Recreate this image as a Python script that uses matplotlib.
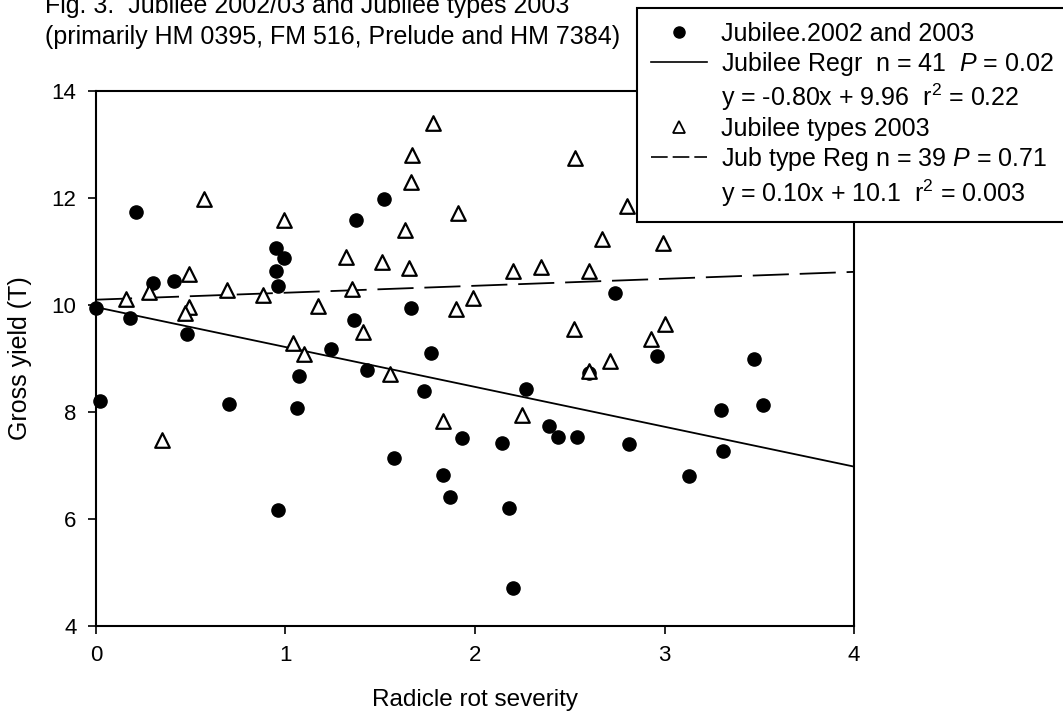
import numpy as np
import matplotlib.pyplot as plt
from matplotlib.lines import Line2D

plt.rcParams['font.family'] = ['Liberation Sans', 'DejaVu Sans']
plt.rcParams['mathtext.fontset'] = 'custom'
plt.rcParams['mathtext.rm'] = 'Liberation Sans'
plt.rcParams['mathtext.it'] = 'Liberation Sans:italic'

# Jubilee 2002 and 2003 (filled circles)
jub_x = [0.00, 0.02, 0.21, 0.18, 0.30, 0.41, 0.48, 0.70, 0.95, 0.99, 0.95, 0.96,
         0.96, 1.37, 1.52, 1.36, 1.24, 1.07, 1.43, 1.66, 1.77, 1.73, 1.06, 1.57,
         1.93, 1.83, 1.87, 2.27, 2.14, 2.39, 2.44, 2.54, 2.81, 3.30, 3.52, 3.31,
         3.13, 2.18, 2.20, 2.74, 2.96, 3.47, 2.60]
jub_y = [9.95, 8.20, 11.73, 9.75, 10.42, 10.45, 9.45, 8.15, 11.06, 10.88, 10.63, 10.36,
         6.17, 11.59, 11.99, 9.72, 9.18, 8.67, 8.79, 9.94, 9.10, 8.40, 8.08, 7.15,
         7.52, 6.82, 6.42, 8.43, 7.43, 7.73, 7.53, 7.53, 7.41, 8.04, 8.13, 7.28,
         6.81, 6.20, 4.71, 10.23, 9.05, 8.99, 8.73]

# Jubilee types 2003 (open triangles)
typ_x = [0.16, 0.28, 0.49, 0.57, 0.49, 0.47, 0.69, 0.88, 0.99, 1.17, 1.32, 1.35,
         1.04, 1.10, 1.41, 1.51, 1.65, 1.63, 1.66, 1.67, 1.78, 1.91, 1.90, 1.99,
         1.55, 1.83, 0.35, 2.25, 2.20, 2.35, 2.60, 2.67, 2.99, 2.80, 2.53, 2.52,
         3.00, 2.93, 2.71, 2.60]
typ_y = [10.12, 10.24, 10.58, 11.98, 9.97, 9.86, 10.28, 10.19, 11.59, 9.98, 10.90, 10.30,
         9.29, 9.08, 9.50, 10.80, 10.70, 11.41, 12.30, 12.80, 13.41, 11.72, 9.92, 10.13,
         8.72, 7.84, 7.48, 7.95, 10.63, 10.72, 10.64, 11.23, 11.16, 11.85, 12.75, 9.55,
         9.65, 9.36, 8.95, 8.77]

# regression lines as drawn (intercept, slope)
jub_fit = (9.96, -0.745)
typ_fit = (10.10, 0.13)
fit_x = np.array([0, 4])

xticks = [0, 1, 2, 3, 4]
yticks = [4, 6, 8, 10, 12, 14]

fig = plt.figure(figsize=(10.63, 7.14), dpi=100)
ax = fig.add_axes([0.0903, 0.1232, 0.7131, 0.7493])

ax.plot(fit_x, jub_fit[0] + jub_fit[1] * fit_x, color='black', lw=1.3, zorder=2)
ax.plot(fit_x, typ_fit[0] + typ_fit[1] * fit_x, color='black', lw=1.3,
        linestyle=(0, (20, 6)), zorder=2)
ax.scatter(jub_x, jub_y, s=90, color='black', zorder=3, clip_on=False)
ax.scatter(typ_x, typ_y, s=110, marker='^', facecolor='white', edgecolor='black',
           linewidth=1.6, zorder=3)

ax.set_xlim(0, 4)
ax.set_ylim(4, 14)
ax.set_xticks(xticks)
ax.set_yticks(yticks)
ax.tick_params(direction='out', length=6, width=1.2, labelsize=16, pad=8)
for s in ax.spines.values():
    s.set_linewidth(1.5)
ax.set_xlabel('Radicle rot severity', fontsize=17.5, labelpad=16)
ax.set_ylabel('Gross yield (T)', fontsize=18, labelpad=14)

# title, first line partly cut off at the top edge as in the scan
fig.text(0.042, 1 - 6 / 714, 'Fig. 3.  Jubilee 2002/03 and Jubilee types 2003',
         fontsize=18, va='center', ha='left')
fig.text(0.042, 1 - 37 / 714, '(primarily HM 0395, FM 516, Prelude and HM 7384)',
         fontsize=18, va='center', ha='left')

handles = [
    Line2D([], [], ls='none', marker='o', color='black', markersize=8),
    Line2D([], [], color='black', lw=1.2),
    Line2D([], [], ls='none'),
    Line2D([], [], ls='none', marker='^', markerfacecolor='white',
           markeredgecolor='black', markersize=8, markeredgewidth=1.3),
    Line2D([], [], color='black', lw=1.2, linestyle=(0, (10, 3))),
    Line2D([], [], ls='none'),
]
labels = [
    'Jubilee.2002 and 2003',
    'Jubilee Regr  n = 41  $\\it{P}$ = 0.02',
    'y = -0.80x + 9.96  r$^2$ = 0.22',
    'Jubilee types 2003',
    'Jub type Reg n = 39 $\\it{P}$ = 0.71',
    'y = 0.10x + 10.1  r$^2$ = 0.003',
]
leg = fig.legend(handles, labels, loc='upper left',
                 bbox_to_anchor=(637 / 1063, 1 - 8 / 714),
                 fontsize=18, frameon=True, fancybox=False, framealpha=1,
                 edgecolor='black', handlelength=2.25, handletextpad=0.56,
                 labelspacing=0.16, borderpad=0.55, borderaxespad=0)
leg.get_frame().set_linewidth(1.5)

fig.savefig('out.png', dpi=100)
